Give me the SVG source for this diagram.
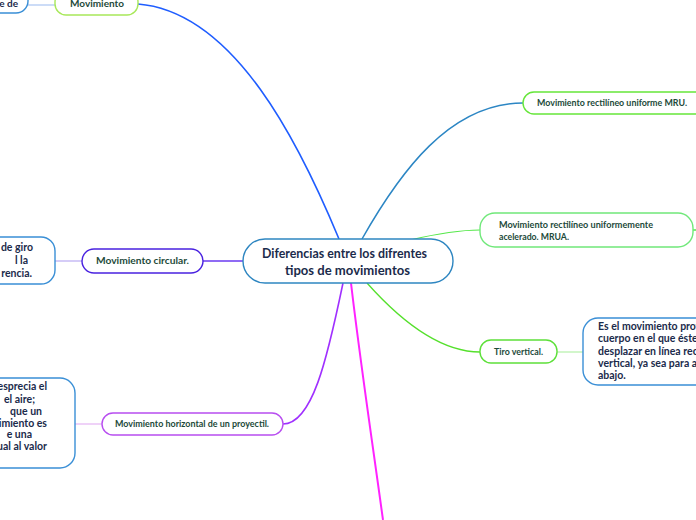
<svg xmlns="http://www.w3.org/2000/svg" width="696" height="520" viewBox="0 0 696 520">
<style>
.bg{fill:#ffffff}
.node{fill:#ffffff;stroke-width:1.4}
.t{font-family:Lato,"Open Sans","Liberation Sans",sans-serif;font-weight:bold}
.tg{fill:#1d4a3a}
.tn{fill:#1b2b4b}
.c{fill:none}
</style>
<rect class="bg" x="0" y="0" width="696" height="520"/>
<g id="connectors">
<path class="c" d="M138,4 C235,12 300,145 339,239" stroke="#1f5dff" stroke-width="1.6"/>
<path class="c" d="M362,239 C400,172 450,103 523,103" stroke="#2c86c4" stroke-width="1.5"/>
<path class="c" d="M410,240 C440,233 460,230 480,230" stroke="#55e84a" stroke-width="1.2"/>
<path class="c" d="M367,283 C400,320 440,352 480,352" stroke="#55e02c" stroke-width="1.3"/>
<path class="c" d="M243,261 L203,261" stroke="#6a3af0" stroke-width="1.3"/>
<path class="c" d="M343,283 C327,360 312,424 283,424" stroke="#a030ff" stroke-width="1.6"/>
<path class="c" d="M351,283 C360,360 372,440 383,520" stroke="#ff22ff" stroke-width="2"/>
<path class="c" d="M28,5 L55,5" stroke="#a9c4f2" stroke-width="1.2"/>
<path class="c" d="M55,261 L82,261" stroke="#b9aaf2" stroke-width="1.2"/>
<path class="c" d="M75,424 L102,424" stroke="#e4b4f4" stroke-width="1.2"/>
<path class="c" d="M557,352 L583,352" stroke="#b4f0a8" stroke-width="1.2"/>
<path class="c" d="M693,230 L696,230" stroke="#55e84a" stroke-width="1.5"/>
</g>
<g id="center">
<rect class="node" x="243" y="239" width="210" height="44" rx="22" stroke="#2e86c1"/>
<text class="t tn" x="344.5" y="258" font-size="13.5" text-anchor="middle" textLength="165" lengthAdjust="spacingAndGlyphs">Diferencias entre los difrentes</text>
<text class="t tn" x="347.5" y="275" font-size="13.5" text-anchor="middle" textLength="125" lengthAdjust="spacingAndGlyphs">tipos de movimientos</text>
</g>
<g id="n-top-left">
<rect class="node" x="-20" y="-12" width="48" height="25" rx="12" stroke="#3a8fd6"/>
<text class="t tn" x="18" y="7" font-size="10" text-anchor="end">e de</text>
</g>
<g id="n-movimiento">
<rect class="node" x="55" y="-9" width="83" height="24" rx="11" stroke="#a8e85a"/>
<text class="t tg" x="97" y="7" font-size="10" text-anchor="middle" textLength="54" lengthAdjust="spacingAndGlyphs">Movimiento</text>
</g>
<g id="n-mru">
<rect class="node" x="523" y="92" width="190" height="22" rx="11" stroke="#66e63a"/>
<text class="t tg" x="537" y="106" font-size="9" textLength="150" lengthAdjust="spacingAndGlyphs">Movimiento rectilíneo uniforme MRU.</text>
</g>
<g id="n-mrua">
<rect class="node" x="480" y="213" width="213" height="34" rx="15" stroke="#70e87a"/>
<text class="t tg" x="499" y="228" font-size="9" textLength="154" lengthAdjust="spacingAndGlyphs">Movimiento rectilíneo uniformemente</text>
<text class="t tg" x="499" y="240" font-size="9" textLength="70" lengthAdjust="spacingAndGlyphs">acelerado. MRUA.</text>
</g>
<g id="n-tiro">
<rect class="node" x="480" y="340" width="77" height="23" rx="11" stroke="#5de03a"/>
<text class="t tg" x="518.5" y="355" font-size="9" text-anchor="middle" textLength="49" lengthAdjust="spacingAndGlyphs">Tiro vertical.</text>
</g>
<g id="n-tiro-desc">
<rect class="node" x="583" y="318" width="140" height="67" rx="15" stroke="#3a8fd6"/>
<text class="t tn" x="598" y="330" font-size="10.5">Es el movimiento prov</text>
<text class="t tn" x="598" y="342" font-size="10.5">cuerpo en el que éste</text>
<text class="t tn" x="598" y="355" font-size="10.5">desplazar en línea rec</text>
<text class="t tn" x="598" y="367" font-size="10.5">vertical, ya sea para a</text>
<text class="t tn" x="598" y="379" font-size="10.5">abajo.</text>
</g>
<g id="n-circular">
<rect class="node" x="82" y="249" width="121" height="24" rx="12" stroke="#4a22e0"/>
<text class="t tg" x="142.5" y="264" font-size="10" text-anchor="middle" textLength="93" lengthAdjust="spacingAndGlyphs">Movimiento circular.</text>
</g>
<g id="n-circular-desc">
<rect class="node" x="-40" y="237" width="95" height="47" rx="14" stroke="#3a8fd6"/>
<text class="t tn" x="33" y="251" font-size="10.5" text-anchor="end">de giro</text>
<text class="t tn" x="28" y="264" font-size="10.5" text-anchor="end">l la</text>
<text class="t tn" x="32" y="277" font-size="10.5" text-anchor="end">rencia.</text>
</g>
<g id="n-horizontal">
<rect class="node" x="102" y="413" width="181" height="22" rx="11" stroke="#b84ef0"/>
<text class="t tg" x="192" y="427" font-size="9" text-anchor="middle" textLength="154" lengthAdjust="spacingAndGlyphs">Movimiento horizontal de un proyectil.</text>
</g>
<g id="n-horizontal-desc">
<rect class="node" x="-40" y="378" width="115" height="90" rx="15" stroke="#3a8fd6"/>
<text class="t tn" x="47" y="390" font-size="10.5" text-anchor="end">esprecia el</text>
<text class="t tn" x="35" y="403" font-size="10.5" text-anchor="end">el aire;</text>
<text class="t tn" x="42" y="415" font-size="10.5" text-anchor="end">que un</text>
<text class="t tn" x="47" y="427" font-size="10.5" text-anchor="end">imiento es</text>
<text class="t tn" x="32" y="438" font-size="10.5" text-anchor="end">e una</text>
<text class="t tn" x="47" y="450" font-size="10.5" text-anchor="end">ual al valor</text>
</g>
</svg>
